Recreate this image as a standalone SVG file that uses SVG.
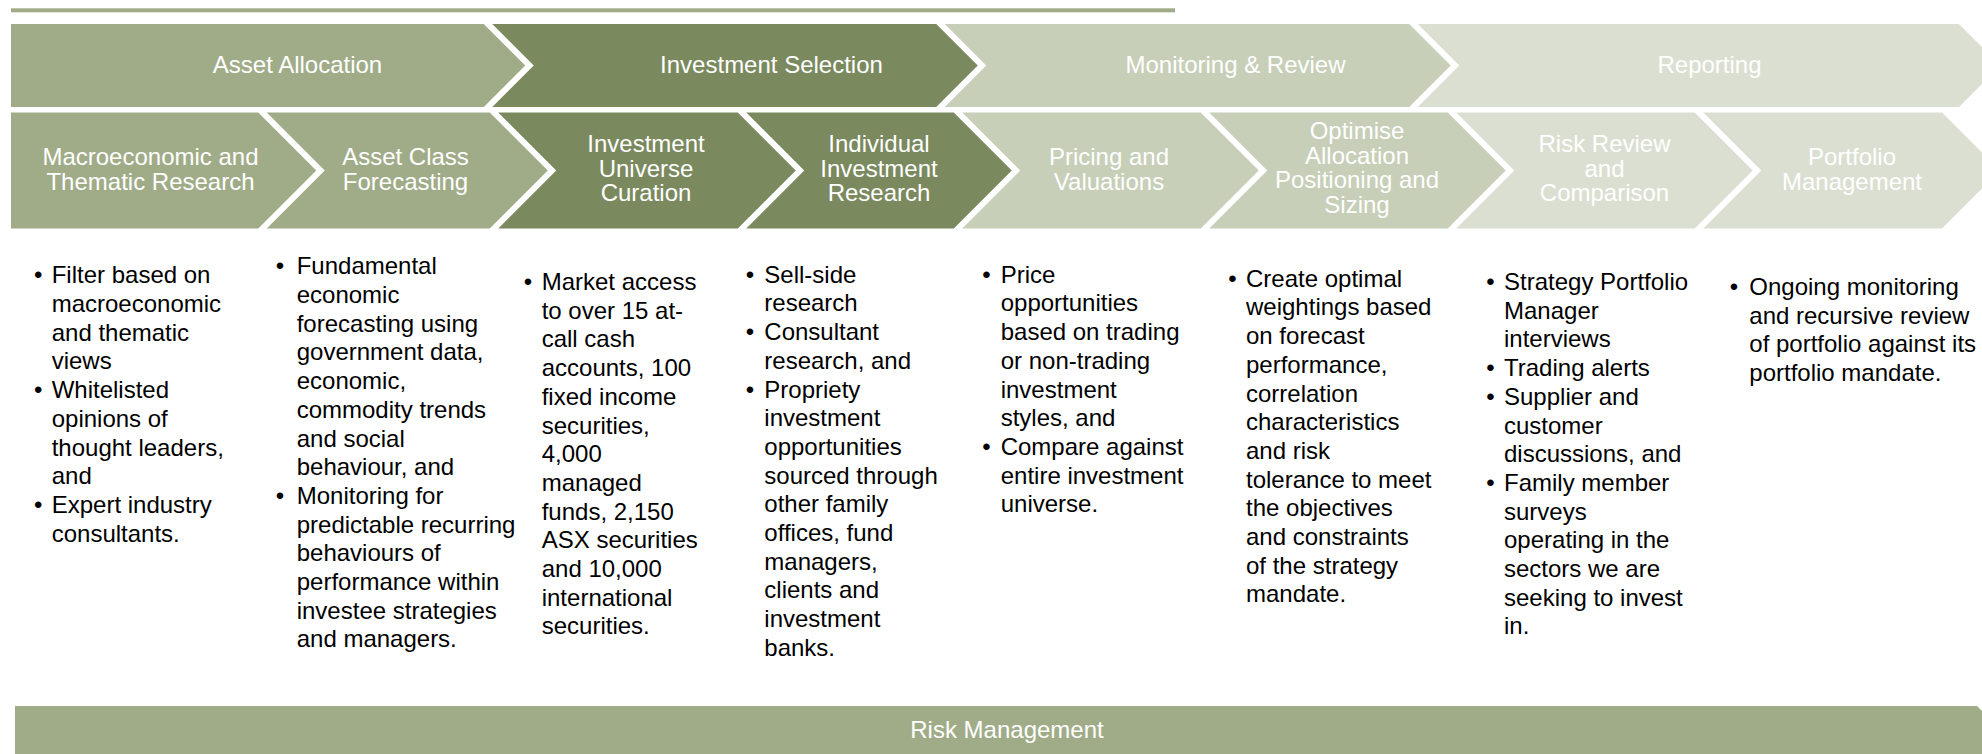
<svg xmlns="http://www.w3.org/2000/svg" width="1982" height="754" viewBox="0 0 1982 754">
<style>
.c1{fill:#A0AC88}.c2{fill:#7A895E}.c3{fill:#C7CFB8}.c4{fill:#DBDFD1}
.h{font-family:"Liberation Sans",Arial,sans-serif;font-size:24px;fill:#FFFFFF;text-anchor:middle}
.b{font-family:"Liberation Sans",Arial,sans-serif;font-size:24px;fill:#000000}
.d{font-family:"Liberation Sans",Arial,sans-serif;font-size:24px;fill:#000000;text-anchor:middle}
</style>
<rect x="11" y="8.3" width="1164" height="4" class="c1"/>
<g id="phase-asset-allocation">
<polygon class="c1" points="11,24 483.75,24 525.25,65.5 483.75,107 11,107"/>
<text class="h" x="297.5" y="73">Asset Allocation</text>
</g>
<g id="phase-investment-selection">
<polygon class="c2" points="492.25,24 936.25,24 977.75,65.5 936.25,107 492.25,107 533.75,65.5"/>
<text class="h" x="771.5" y="73">Investment Selection</text>
</g>
<g id="phase-monitoring-review">
<polygon class="c3" points="944.75,24 1409.25,24 1450.75,65.5 1409.25,107 944.75,107 986.25,65.5"/>
<text class="h" x="1235.5" y="73">Monitoring &amp; Review</text>
</g>
<g id="phase-reporting">
<polygon class="c4" points="1417.75,24 1959,24 2000.5,65.5 1959,107 1417.75,107 1459.25,65.5"/>
<text class="h" x="1709.5" y="73">Reporting</text>
</g>

<g id="step-macro">
<polygon class="c1" points="11,112.5 258.25,112.5 316.25,170.5 258.25,228.5 11,228.5"/>
<text class="h" x="150.5" y="165"><tspan x="150.5">Macroeconomic and</tspan><tspan x="150.5" dy="24.5">Thematic Research</tspan></text>
<text class="d" x="38.3" y="283.3">•</text><text class="d" x="38.3" y="398.1">•</text><text class="d" x="38.3" y="512.9">•</text>
<text class="b" y="283.3"><tspan x="51.7">Filter based on</tspan><tspan x="51.7" dy="28.7">macroeconomic</tspan><tspan x="51.7" dy="28.7">and thematic</tspan><tspan x="51.7" dy="28.7">views</tspan><tspan x="51.7" dy="28.7">Whitelisted</tspan><tspan x="51.7" dy="28.7">opinions of</tspan><tspan x="51.7" dy="28.7">thought leaders,</tspan><tspan x="51.7" dy="28.7">and</tspan><tspan x="51.7" dy="28.7">Expert industry</tspan><tspan x="51.7" dy="28.7">consultants.</tspan></text>
</g>

<g id="step-asset-class">
<polygon class="c1" points="266.75,112.5 489.75,112.5 547.75,170.5 489.75,228.5 266.75,228.5 324.75,170.5"/>
<text class="h" y="165"><tspan x="405.5">Asset Class</tspan><tspan x="405.5" dy="24.5">Forecasting</tspan></text>
<text class="d" x="280" y="274.3">•</text><text class="d" x="280" y="503.9">•</text>
<text class="b" y="274.3"><tspan x="296.7">Fundamental</tspan><tspan x="296.7" dy="28.7">economic</tspan><tspan x="296.7" dy="28.7">forecasting using</tspan><tspan x="296.7" dy="28.7">government data,</tspan><tspan x="296.7" dy="28.7">economic,</tspan><tspan x="296.7" dy="28.7">commodity trends</tspan><tspan x="296.7" dy="28.7">and social</tspan><tspan x="296.7" dy="28.7">behaviour, and</tspan><tspan x="296.7" dy="28.7">Monitoring for</tspan><tspan x="296.7" dy="28.7">predictable recurring</tspan><tspan x="296.7" dy="28.7">behaviours of</tspan><tspan x="296.7" dy="28.7">performance within</tspan><tspan x="296.7" dy="28.7">investee strategies</tspan><tspan x="296.7" dy="28.7">and managers.</tspan></text>
</g>

<g id="step-universe">
<polygon class="c2" points="498.25,112.5 737.75,112.5 795.75,170.5 737.75,228.5 498.25,228.5 556.25,170.5"/>
<text class="h" y="152"><tspan x="646">Investment</tspan><tspan x="646" dy="24.5">Universe</tspan><tspan x="646" dy="24.5">Curation</tspan></text>
<text class="d" x="528" y="290">•</text>
<text class="b" y="290"><tspan x="541.7">Market access</tspan><tspan x="541.7" dy="28.7">to over 15 at-</tspan><tspan x="541.7" dy="28.7">call cash</tspan><tspan x="541.7" dy="28.7">accounts, 100</tspan><tspan x="541.7" dy="28.7">fixed income</tspan><tspan x="541.7" dy="28.7">securities,</tspan><tspan x="541.7" dy="28.7">4,000</tspan><tspan x="541.7" dy="28.7">managed</tspan><tspan x="541.7" dy="28.7">funds, 2,150</tspan><tspan x="541.7" dy="28.7">ASX securities</tspan><tspan x="541.7" dy="28.7">and 10,000</tspan><tspan x="541.7" dy="28.7">international</tspan><tspan x="541.7" dy="28.7">securities.</tspan></text>
</g>

<g id="step-individual">
<polygon class="c2" points="746.25,112.5 953.75,112.5 1011.75,170.5 953.75,228.5 746.25,228.5 804.25,170.5"/>
<text class="h" y="152"><tspan x="879">Individual</tspan><tspan x="879" dy="24.5">Investment</tspan><tspan x="879" dy="24.5">Research</tspan></text>
<text class="d" x="750" y="282.7">•</text><text class="d" x="750" y="340.1">•</text><text class="d" x="750" y="397.5">•</text>
<text class="b" y="282.7"><tspan x="764.3">Sell-side</tspan><tspan x="764.3" dy="28.7">research</tspan><tspan x="764.3" dy="28.7">Consultant</tspan><tspan x="764.3" dy="28.7">research, and</tspan><tspan x="764.3" dy="28.7">Propriety</tspan><tspan x="764.3" dy="28.7">investment</tspan><tspan x="764.3" dy="28.7">opportunities</tspan><tspan x="764.3" dy="28.7">sourced through</tspan><tspan x="764.3" dy="28.7">other family</tspan><tspan x="764.3" dy="28.7">offices, fund</tspan><tspan x="764.3" dy="28.7">managers,</tspan><tspan x="764.3" dy="28.7">clients and</tspan><tspan x="764.3" dy="28.7">investment</tspan><tspan x="764.3" dy="28.7">banks.</tspan></text>
</g>

<g id="step-pricing">
<polygon class="c3" points="962.25,112.5 1200.75,112.5 1258.75,170.5 1200.75,228.5 962.25,228.5 1020.25,170.5"/>
<text class="h" y="165"><tspan x="1109">Pricing and</tspan><tspan x="1109" dy="24.5">Valuations</tspan></text>
<text class="d" x="986.5" y="282.7">•</text><text class="d" x="986.5" y="454.9">•</text>
<text class="b" y="282.7"><tspan x="1000.7">Price</tspan><tspan x="1000.7" dy="28.7">opportunities</tspan><tspan x="1000.7" dy="28.7">based on trading</tspan><tspan x="1000.7" dy="28.7">or non-trading</tspan><tspan x="1000.7" dy="28.7">investment</tspan><tspan x="1000.7" dy="28.7">styles, and</tspan><tspan x="1000.7" dy="28.7">Compare against</tspan><tspan x="1000.7" dy="28.7">entire investment</tspan><tspan x="1000.7" dy="28.7">universe.</tspan></text>
</g>

<g id="step-optimise">
<polygon class="c3" points="1209.25,112.5 1447.75,112.5 1505.75,170.5 1447.75,228.5 1209.25,228.5 1267.25,170.5"/>
<text class="h" y="139"><tspan x="1357">Optimise</tspan><tspan x="1357" dy="24.5">Allocation</tspan><tspan x="1357" dy="24.5">Positioning and</tspan><tspan x="1357" dy="24.5">Sizing</tspan></text>
<text class="d" x="1232.5" y="286.7">•</text>
<text class="b" y="286.7"><tspan x="1246">Create optimal</tspan><tspan x="1246" dy="28.7">weightings based</tspan><tspan x="1246" dy="28.7">on forecast</tspan><tspan x="1246" dy="28.7">performance,</tspan><tspan x="1246" dy="28.7">correlation</tspan><tspan x="1246" dy="28.7">characteristics</tspan><tspan x="1246" dy="28.7">and risk</tspan><tspan x="1246" dy="28.7">tolerance to meet</tspan><tspan x="1246" dy="28.7">the objectives</tspan><tspan x="1246" dy="28.7">and constraints</tspan><tspan x="1246" dy="28.7">of the strategy</tspan><tspan x="1246" dy="28.7">mandate.</tspan></text>
</g>

<g id="step-risk-review">
<polygon class="c4" points="1456.25,112.5 1694.75,112.5 1752.75,170.5 1694.75,228.5 1456.25,228.5 1514.25,170.5"/>
<text class="h" y="152"><tspan x="1604.5">Risk Review</tspan><tspan x="1604.5" dy="24.5">and</tspan><tspan x="1604.5" dy="24.5">Comparison</tspan></text>
<text class="d" x="1490.5" y="290">•</text><text class="d" x="1490.5" y="376.1">•</text><text class="d" x="1490.5" y="404.8">•</text><text class="d" x="1490.5" y="490.9">•</text>
<text class="b" y="290"><tspan x="1504">Strategy Portfolio</tspan><tspan x="1504" dy="28.7">Manager</tspan><tspan x="1504" dy="28.7">interviews</tspan><tspan x="1504" dy="28.7">Trading alerts</tspan><tspan x="1504" dy="28.7">Supplier and</tspan><tspan x="1504" dy="28.7">customer</tspan><tspan x="1504" dy="28.7">discussions, and</tspan><tspan x="1504" dy="28.7">Family member</tspan><tspan x="1504" dy="28.7">surveys</tspan><tspan x="1504" dy="28.7">operating in the</tspan><tspan x="1504" dy="28.7">sectors we are</tspan><tspan x="1504" dy="28.7">seeking to invest</tspan><tspan x="1504" dy="28.7">in.</tspan></text>
</g>

<g id="step-portfolio">
<polygon class="c4" points="1703.25,112.5 1942,112.5 2000,170.5 1942,228.5 1703.25,228.5 1761.25,170.5"/>
<text class="h" y="165"><tspan x="1852">Portfolio</tspan><tspan x="1852" dy="24.5">Management</tspan></text>
<text class="d" x="1734" y="295">•</text>
<text class="b" y="295"><tspan x="1749.3">Ongoing monitoring</tspan><tspan x="1749.3" dy="28.7">and recursive review</tspan><tspan x="1749.3" dy="28.7">of portfolio against its</tspan><tspan x="1749.3" dy="28.7">portfolio mandate.</tspan></text>
</g>

<g id="risk-management">
<polygon class="c1" points="15,706 1977,706 2025,754 15,754"/>
<text class="h" x="1007" y="738">Risk Management</text>
</g>
</svg>
